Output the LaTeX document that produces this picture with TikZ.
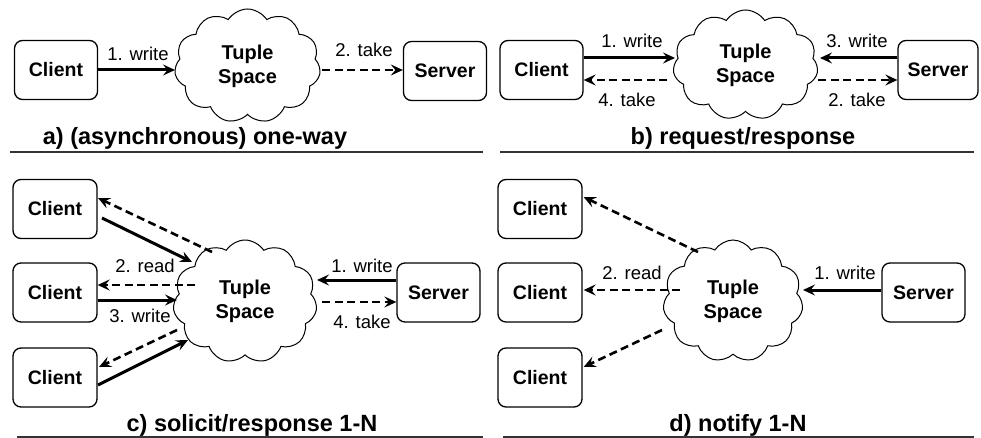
\documentclass[tikz,border=0pt]{standalone}
\usepackage{fontspec}
\setmainfont{Liberation Sans}
\usetikzlibrary{shapes.symbols,arrows.meta}
\tikzset{
  box/.style={draw, line width=1.3pt, rounded corners=8pt, minimum width=83pt, minimum height=59pt, inner sep=0pt,
    font=\bfseries\fontsize{19.5pt}{23pt}\selectfont},
  tcloud/.style={draw, cloud, cloud puffs=11, cloud puff arc=115, cloud ignores aspect, line width=1pt,
    minimum width=146pt, minimum height=114pt, inner sep=0pt, align=center,
    font=\bfseries\fontsize{20pt}{24pt}\selectfont},
  wr/.style={line width=3pt, -{Stealth[length=12pt,width=11pt,inset=4.5pt]}},
  tk/.style={line width=2.6pt, dash pattern=on 8pt off 4.5pt, -{Stealth[length=12pt,width=11pt,inset=4.5pt]}},
  lbl/.style={font=\fontsize{18.5pt}{22pt}\selectfont, inner sep=0pt},
  captext/.style={font=\bfseries\fontsize{23.5pt}{28pt}\selectfont, inner sep=0pt},
  rulel/.style={line width=1.8pt, draw=black!80}
}
\begin{document}
\begin{tikzpicture}[x=1pt,y=-1pt]
\useasboundingbox (0,0) rectangle (981,438);
% ---------- a ----------
\node[box] (ca) at (56,70) {Client};
\node[tcloud] (ta) at (247.5,66) {Tuple\\Space};
\node[box] (sa) at (445,71) {Server};
\draw[wr] (ca.east) -- ([xshift=-72.5pt,yshift=-4pt]ta.center);
\draw[tk] ([xshift=74.5pt,yshift=-4pt]ta.center) -- ([yshift=1pt]sa.west);
\node[lbl] (la1) at (138,54) {1. write};
\node[lbl] (la2) at (364,50) {2. take};
\node[captext] (capa) at (195,138) {a) (asynchronous) one-way};
\coordinate (ua1) at (10,152); \coordinate (ua2) at (483,152);
\draw[rulel] (ua1) -- (ua2);
% ---------- b ----------
\node[box] (cb) at (541.5,70) {Client};
\node[tcloud, minimum width=145pt, minimum height=110pt] (tb) at (745.5,65) {Tuple\\Space};
\node[box, minimum width=80pt] (sb) at (938,70) {Server};
\draw[wr] ([yshift=12pt]cb.east) -- ([xshift=-70.5pt,yshift=7pt]tb.center);
\draw[tk] ([xshift=-78.5pt,yshift=-15pt]tb.center) -- ([yshift=-10pt]cb.east);
\draw[wr] ([yshift=12pt]sb.west) -- ([xshift=74.5pt,yshift=7pt]tb.center);
\draw[tk] ([xshift=72.5pt,yshift=-15pt]tb.center) -- ([yshift=-10pt]sb.west);
\node[lbl] (lb1) at (632,41) {1. write};
\node[lbl] (lb4) at (627,100) {4. take};
\node[lbl] (lb3) at (857,41) {3. write};
\node[lbl] (lb2) at (857,100) {2. take};
\node[captext] (capb) at (743,138) {b) request/response};
\coordinate (ub1) at (500,152); \coordinate (ub2) at (974,152);
\draw[rulel] (ub1) -- (ub2);
% ---------- c ----------
\node[box, minimum width=84pt] (c1) at (55,209) {Client};
\node[box, minimum width=84pt] (c2) at (55,292.5) {Client};
\node[box, minimum width=84pt] (c3) at (55,377.5) {Client};
\node[tcloud, minimum width=144pt, minimum height=123pt] (tc) at (245,301.5) {Tuple\\Space};
\node[box] (sc) at (438.5,292.5) {Server};
\draw[tk] ([xshift=-33pt,yshift=49.5pt]tc.center) -- ([xshift=43pt,yshift=11pt]c1.center);
\draw[wr] ([xshift=47pt,yshift=-9pt]c1.center) -- ([xshift=-53pt,yshift=39.5pt]tc.center);
\draw[tk] ([xshift=-50pt,yshift=16.5pt]tc.center) -- ([yshift=7.5pt]c2.east);
\draw[wr] ([yshift=-7.5pt]c2.east) -- ([xshift=-68pt,yshift=1.5pt]tc.center);
\draw[tk] ([xshift=-68pt,yshift=-28.5pt]tc.center) -- ([xshift=44pt,yshift=10.5pt]c3.center);
\draw[wr] ([xshift=43pt,yshift=-7.5pt]c3.center) -- ([xshift=-57pt,yshift=-38.5pt]tc.center);
\draw[wr] ([yshift=12.5pt]sc.west) -- ([xshift=72pt,yshift=21.5pt]tc.center);
\draw[tk] ([xshift=77pt,yshift=-0.5pt]tc.center) -- ([yshift=-9.5pt]sc.west);
\node[lbl] (lc2) at (145,266) {2. read};
\node[lbl] (lc3) at (140,316) {3. write};
\node[lbl] (lc1) at (362,266) {1. write};
\node[lbl] (lc4) at (362,322) {4. take};
\node[captext] (capc) at (252,425) {c) solicit/response 1-N};
\coordinate (uc1) at (17,437); \coordinate (uc2) at (483,437);
\draw[rulel] (uc1) -- (uc2);
% ---------- d ----------
\node[box, minimum width=84pt] (d1) at (540,209) {Client};
\node[box, minimum width=84pt] (d2) at (540,292.5) {Client};
\node[box, minimum width=84pt] (d3) at (540,377.5) {Client};
\node[tcloud, minimum width=140pt, minimum height=122pt] (td) at (733,301) {Tuple\\Space};
\node[box] (sd) at (923.5,292.5) {Server};
\draw[tk] ([xshift=-35pt,yshift=49pt]td.center) -- ([xshift=1pt,yshift=12pt]d1.east);
\draw[tk] ([xshift=-53pt,yshift=11pt]td.center) -- ([xshift=1pt,yshift=2.5pt]d2.east);
\draw[tk] ([xshift=-71pt,yshift=-29pt]td.center) -- ([xshift=1pt,yshift=10.5pt]d3.east);
\draw[wr] ([yshift=2.5pt]sd.west) -- ([xshift=70pt,yshift=11pt]td.center);
\node[lbl] (ld2) at (632,273) {2. read};
\node[lbl] (ld1) at (845,273) {1. write};
\node[captext] (capd) at (738,425) {d) notify 1-N};
\coordinate (ud1) at (503,437); \coordinate (ud2) at (974,437);
\draw[rulel] (ud1) -- (ud2);
\end{tikzpicture}
\end{document}
